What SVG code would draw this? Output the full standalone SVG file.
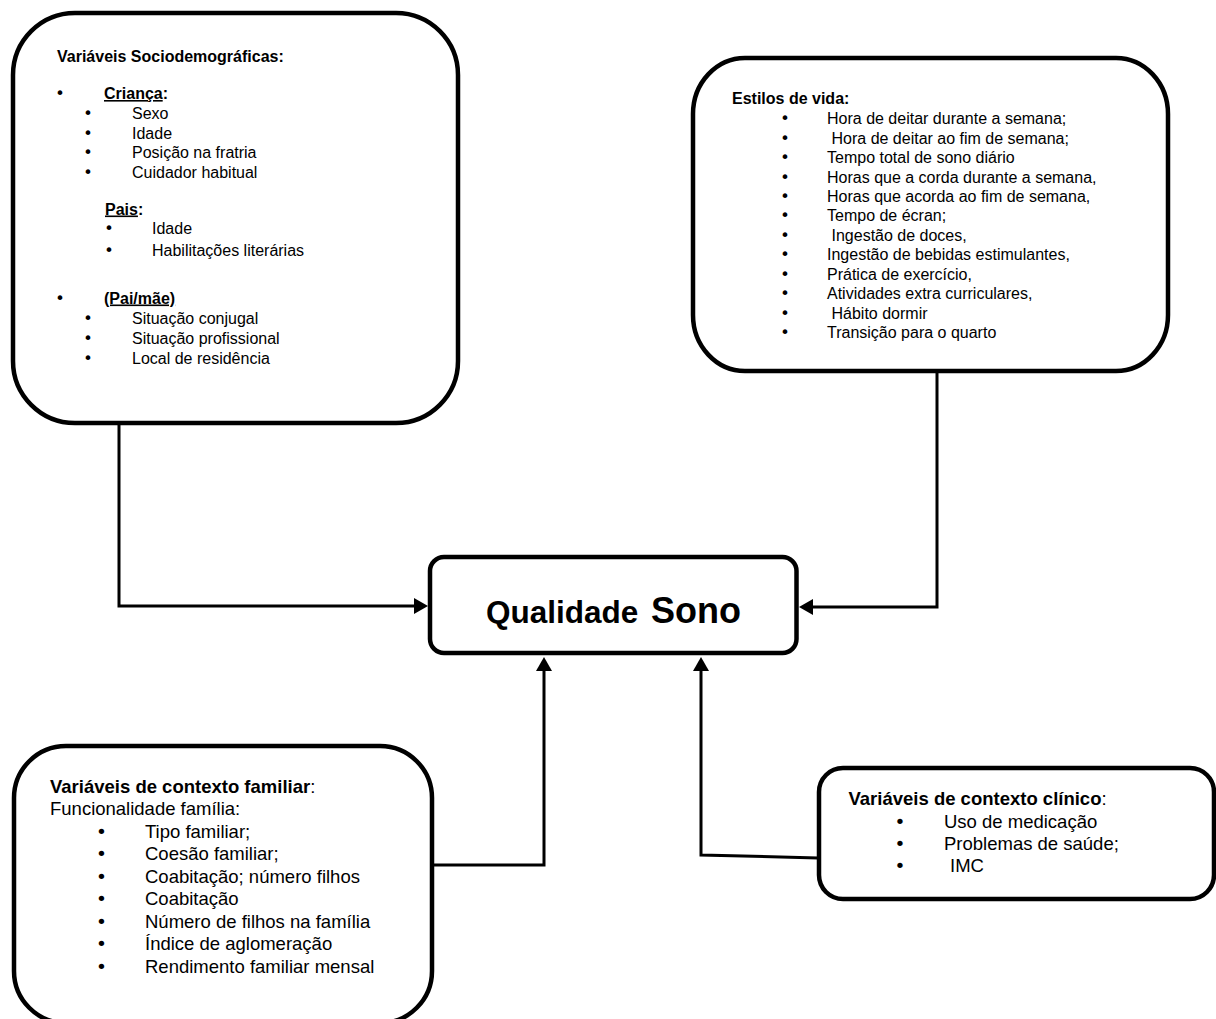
<svg xmlns="http://www.w3.org/2000/svg" width="1216" height="1019" viewBox="0 0 1216 1019">
<defs>
<style>
.box{fill:#fff;stroke:#000;stroke-width:4.5}
.conn{fill:none;stroke:#000;stroke-width:3}
text{font-family:"Liberation Sans",Arial,Helvetica,sans-serif;fill:#000}
.s16{font-size:16px}
.s18{font-size:18.5px}
.b{font-weight:bold}
.u{text-decoration:underline}
.bul{text-anchor:middle;font-family:"DejaVu Sans",sans-serif}
</style>
<marker id="arr" viewBox="0 0 14 16" refX="4" refY="8" markerWidth="14" markerHeight="16" orient="auto" markerUnits="userSpaceOnUse">
<path d="M0,0 L14,8 L0,16 Z" fill="#000"/>
</marker>
</defs>
<rect width="1216" height="1019" fill="#fff"/>

<g id="connectors">
<path class="conn" d="M119,424 V606 H418" marker-end="url(#arr)"/>
<path class="conn" d="M937,372 V607 H809" marker-end="url(#arr)"/>
<path class="conn" d="M433,865 H544 V667" marker-end="url(#arr)"/>
<path class="conn" d="M818,858 L701,855 V667" marker-end="url(#arr)"/>
</g>

<g id="sociodemograficas">
<rect class="box" x="13" y="13" width="445" height="410" rx="62" ry="62"/>
<g class="s16">
<text class="b" x="57" y="62">Variáveis Sociodemográficas:</text>
<text class="bul" x="60" y="99">•</text>
<text class="b" x="104" y="99"><tspan class="u">Criança</tspan>:</text>
<text class="bul" x="88" y="119">•</text><text x="132" y="119">Sexo</text>
<text class="bul" x="88" y="138.5">•</text><text x="132" y="138.5">Idade</text>
<text class="bul" x="88" y="158">•</text><text x="132" y="158">Posição na fratria</text>
<text class="bul" x="88" y="177.5">•</text><text x="132" y="177.5">Cuidador habitual</text>
<text class="b" x="105" y="214.5"><tspan class="u">Pais</tspan>:</text>
<text class="bul" x="109" y="234">•</text><text x="152" y="234">Idade</text>
<text class="bul" x="109" y="256">•</text><text x="152" y="256">Habilitações literárias</text>
<text class="bul" x="60" y="303.5">•</text>
<text class="b u" x="104" y="303.5">(Pai/mãe)</text>
<text class="bul" x="88" y="323.5">•</text><text x="132" y="323.5">Situação conjugal</text>
<text class="bul" x="88" y="343.5">•</text><text x="132" y="343.5">Situação profissional</text>
<text class="bul" x="88" y="363.5">•</text><text x="132" y="363.5">Local de residência</text>
</g>
</g>

<g id="estilos-de-vida">
<rect class="box" x="693" y="58" width="475" height="313" rx="52" ry="56"/>
<g class="s16">
<text class="b" x="732" y="103.5">Estilos de vida:</text>
<text class="bul" x="785" y="124">•</text><text x="827" y="124">Hora de deitar durante a semana;</text>
<text class="bul" x="785" y="143.5">•</text><text x="831.5" y="143.5">Hora de deitar ao fim de semana;</text>
<text class="bul" x="785" y="163">•</text><text x="827" y="163">Tempo total de sono diário</text>
<text class="bul" x="785" y="182.5">•</text><text x="827" y="182.5">Horas que a corda durante a semana,</text>
<text class="bul" x="785" y="202">•</text><text x="827" y="202">Horas que acorda ao fim de semana,</text>
<text class="bul" x="785" y="221">•</text><text x="827" y="221">Tempo de écran;</text>
<text class="bul" x="785" y="240.5">•</text><text x="831.5" y="240.5">Ingestão de doces,</text>
<text class="bul" x="785" y="260">•</text><text x="827" y="260">Ingestão de bebidas estimulantes,</text>
<text class="bul" x="785" y="279.5">•</text><text x="827" y="279.5">Prática de exercício,</text>
<text class="bul" x="785" y="299">•</text><text x="827" y="299">Atividades extra curriculares,</text>
<text class="bul" x="785" y="318.5">•</text><text x="831.5" y="318.5">Hábito dormir</text>
<text class="bul" x="785" y="338">•</text><text x="827" y="338">Transição para o quarto</text>
</g>
</g>

<g id="qualidade-sono">
<rect class="box" x="430" y="557" width="366.5" height="96" rx="14" ry="14"/>
<text class="b" x="486" y="623"><tspan font-size="31.5">Qualidade </tspan><tspan x="651" font-size="36">Sono</tspan></text>
</g>

<g id="contexto-familiar">
<rect class="box" x="14" y="746" width="418" height="277" rx="52" ry="52"/>
<g class="s18">
<text x="50" y="793"><tspan class="b">Variáveis de contexto familiar</tspan>:</text>
<text x="50" y="815">Funcionalidade família:</text>
<text class="bul" x="101.5" y="837.5">•</text><text x="145" y="837.5">Tipo familiar;</text>
<text class="bul" x="101.5" y="860">•</text><text x="145" y="860">Coesão familiar;</text>
<text class="bul" x="101.5" y="882.5">•</text><text x="145" y="882.5">Coabitação; número filhos</text>
<text class="bul" x="101.5" y="905">•</text><text x="145" y="905">Coabitação</text>
<text class="bul" x="101.5" y="927.5">•</text><text x="145" y="927.5">Número de filhos na família</text>
<text class="bul" x="101.5" y="950">•</text><text x="145" y="950">Índice de aglomeração</text>
<text class="bul" x="101.5" y="973">•</text><text x="145" y="973">Rendimento familiar mensal</text>
</g>
</g>

<g id="contexto-clinico">
<rect class="box" x="819" y="768" width="395" height="131" rx="24" ry="24"/>
<g class="s18">
<text x="848.5" y="804.5"><tspan class="b">Variáveis de contexto clínico</tspan>:</text>
<text class="bul" x="900" y="828">•</text><text x="944" y="828">Uso de medicação</text>
<text class="bul" x="900" y="850">•</text><text x="944" y="850">Problemas de saúde;</text>
<text class="bul" x="900" y="872">•</text><text x="950" y="872">IMC</text>
</g>
</g>
</svg>
